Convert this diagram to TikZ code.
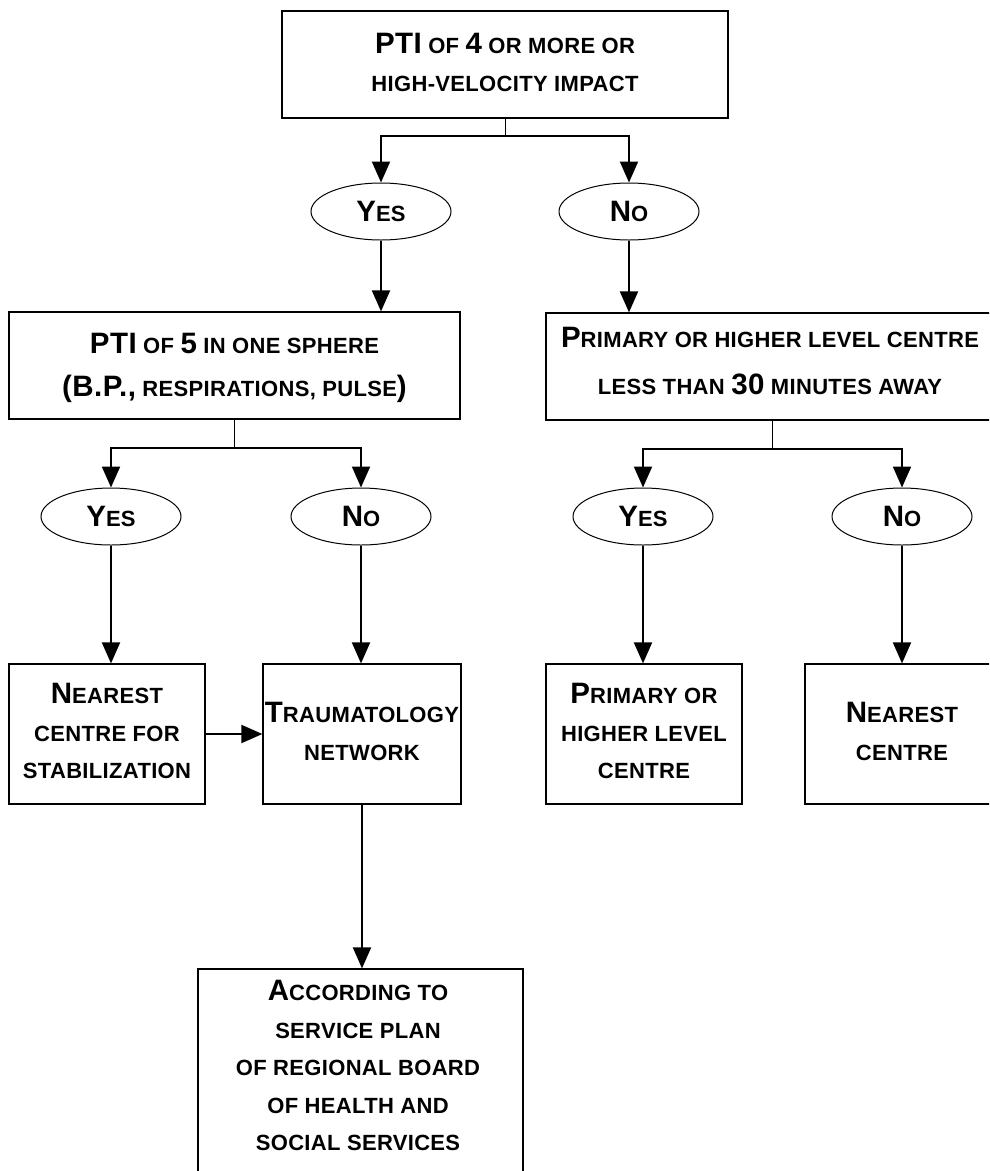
\documentclass[tikz,border=0pt]{standalone}
\usepackage{fontspec}
\setmainfont{Liberation Sans}[LetterSpace=1.5]
\usetikzlibrary{arrows.meta,shapes.geometric}
\newcommand\B{\fontsize{29.5pt}{37.5pt}\selectfont}
\newcommand\sr{\rule[-18.75pt]{0pt}{37.5pt}}
\tikzset{
  box/.style={draw, line width=1.2pt, rectangle, inner sep=0pt},
  oval/.style={draw, line width=1pt, ellipse, minimum width=140pt, minimum height=57pt, inner sep=0pt,
    font=\fontsize{22pt}{37.5pt}\selectfont\bfseries},
  txt/.style={align=center, inner sep=0pt, font=\fontsize{22pt}{37.5pt}\selectfont\bfseries},
  arr/.style={line width=2pt, -{Triangle[length=21pt,width=18pt]}},
  stem/.style={line width=1pt},
}
\begin{document}
\begin{tikzpicture}[x=1pt,y=-1pt]
\useasboundingbox (0,0) rectangle (989,1171);
\clip (0,0) rectangle (989,1171);

% boxes
\node[box, minimum width=446pt, minimum height=107pt] (top) at (505,64.5) {};
\node[txt] (topt) at (505,72) {\sr{\B PTI} OF {\B 4} OR MORE OR\\[0.5pt]\sr HIGH-VELOCITY IMPACT};

\node[box, minimum width=451pt, minimum height=107pt] (b2) at (234.5,365.5) {};
\node[txt] (b2t) at (234.5,374.5) {\sr{\B PTI} OF {\B 5} IN ONE SPHERE\\[1.5pt]\sr{\B (B.P.,} RESPIRATIONS, PULSE{\B )}};

\node[box, minimum width=452pt, minimum height=107pt] (r2) at (772,366.5) {};
\node[txt] (r2t) at (770,370) {\sr{\B P}RIMARY OR HIGHER LEVEL CENTRE\\[6.5pt]\sr LESS THAN {\B 30} MINUTES AWAY};

\node[box, minimum width=196pt, minimum height=140pt] (s4a) at (107,734) {};
\node[txt] (s4at) at (107,740.5) {\sr{\B N}EAREST\\\sr CENTRE FOR\\\sr STABILIZATION};

\node[box, minimum width=198pt, minimum height=140pt] (s4b) at (362,734) {};
\node[txt] (s4bt) at (362,740.5) {\sr{\B T}RAUMATOLOGY\\\sr NETWORK};

\node[box, minimum width=196pt, minimum height=140pt] (s4c) at (644,734) {};
\node[txt] (s4ct) at (644,740.5) {\sr{\B P}RIMARY OR\\\sr HIGHER LEVEL\\\sr CENTRE};

\node[box, minimum width=194pt, minimum height=140pt] (s4d) at (902,734) {};
\node[txt] (s4dt) at (902,740.5) {\sr{\B N}EAREST\\\sr CENTRE};

\node[box, minimum width=325pt, minimum height=231pt] (bb) at (360.5,1084.5) {};
\node[txt] (bbt) at (358,1075) {\sr{\B A}CCORDING TO\\\sr SERVICE PLAN\\\sr OF REGIONAL BOARD\\\sr OF HEALTH AND\\\sr SOCIAL SERVICES};

% ovals
\node[oval] (y1) at (381,211.5) {{\B Y}ES};
\node[oval] (n1) at (629,211.5) {{\B N}O};
\node[oval] (y2) at (111,516.5) {{\B Y}ES};
\node[oval] (n2) at (361,516.5) {{\B N}O};
\node[oval] (y3) at (643,516.5) {{\B Y}ES};
\node[oval] (n3) at (902,516.5) {{\B N}O};

% junctions
\coordinate (j1) at (505,136);
\coordinate (j2) at (234.5,448);
\coordinate (j3) at (772,449);

% connectors
\draw[stem] (top.south) -- (j1);
\draw[arr] (j1) -| (y1.north);
\draw[arr] (j1) -| (n1.north);
\draw[arr] (y1.south) -- (y1.south |- b2.north);
\draw[arr] (n1.south) -- (n1.south |- r2.north);

\draw[stem] (b2.south) -- (j2);
\draw[arr] (j2) -| (y2.north);
\draw[arr] (j2) -| (n2.north);
\draw[stem] (r2.south) -- (j3);
\draw[arr] (j3) -| (y3.north);
\draw[arr] (j3) -| (n3.north);

\draw[arr] (y2.south) -- (y2.south |- s4a.north);
\draw[arr] (n2.south) -- (n2.south |- s4b.north);
\draw[arr] (y3.south) -- (y3.south |- s4c.north);
\draw[arr] (n3.south) -- (n3.south |- s4d.north);
\draw[arr] (s4a.east) -- (s4b.west);
\draw[arr] (s4b.south) -- (s4b.south |- bb.north);
\end{tikzpicture}
\end{document}
